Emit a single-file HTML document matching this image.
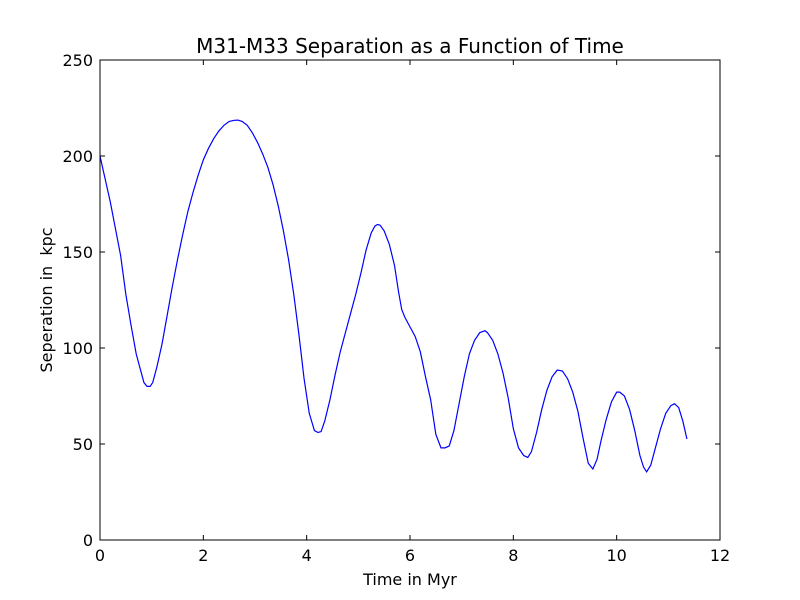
<!DOCTYPE html>
<html><head><meta charset="utf-8"><style>
body{margin:0;background:#fff;}
svg{display:block;font-family:"DejaVu Sans","Liberation Sans",sans-serif;}
text{white-space:pre;}
</style></head><body>
<svg id="chart" width="800" height="600"></svg>
<script>
const times=[0,0.2,0.4,0.5,0.6,0.7,0.8,0.85,0.91,0.97,1.02,1.1,1.2,1.3,1.4,1.5,1.6,1.7,1.8,1.9,2.0,2.1,2.2,2.3,2.4,2.5,2.6,2.67,2.75,2.85,2.95,3.05,3.15,3.25,3.35,3.45,3.55,3.65,3.75,3.85,3.95,4.05,4.15,4.22,4.28,4.35,4.45,4.55,4.65,4.75,4.85,4.95,5.05,5.15,5.25,5.32,5.37,5.42,5.5,5.6,5.7,5.78,5.84,5.9,6.0,6.1,6.2,6.3,6.4,6.5,6.6,6.68,6.76,6.85,6.95,7.05,7.15,7.25,7.35,7.45,7.5,7.6,7.7,7.8,7.9,8.0,8.1,8.2,8.28,8.35,8.45,8.55,8.65,8.75,8.85,8.95,9.05,9.15,9.25,9.35,9.45,9.54,9.62,9.7,9.8,9.9,10.0,10.06,10.15,10.25,10.35,10.45,10.52,10.58,10.66,10.75,10.85,10.95,11.05,11.12,11.2,11.28,11.36];
const separation=[200,176,148,128,112,97,87,82,80,80,82,90,102,117,132,146,159,171,181,190,198,204,209,213,216,218,218.6,218.7,218,216,212,207,201,194,185,174,161,146,128,107,84,66,57,56,56.5,62,73,86,98,108,118,128,139,151,160,163.5,164.3,164,161,154,143,129,120,116,111,106,98,85,73,55,48,48,49,57,71,85,97,104,108,109,108,104,97,87,74,58,48,44,43,46,56,68,78,85,88.5,88,84,77,67,53,40,37,42,52,63,72,77,77,75,68,57,44,38,35.5,39,48,58,66,70,71,69,62,52.6];
const xTicks=[0,2,4,6,8,10,12];
const yTicks=[0,50,100,150,200,250];
const NS='http://www.w3.org/2000/svg';
const svg=document.getElementById('chart');
const L=100,R=720,T=60,B=540;
const xs=v=>L+(v-0)/12*(R-L);
const ys=v=>B-(v-0)/250*(B-T);
function mk(tag,attrs,parent){const e=document.createElementNS(NS,tag);for(const k in attrs)e.setAttribute(k,attrs[k]);(parent||svg).appendChild(e);return e;}
const t=mk('text',{x:410,y:53,'text-anchor':'middle','font-size':'20'});


t.textContent='M31-M33 Separation as a Function of Time';
let d='';
times.forEach((tv,i)=>{d+=(i?'L':'M')+xs(tv).toFixed(2)+','+ys(separation[i]).toFixed(2);});
const line=mk('path',{d:d,fill:'none',stroke:'#0000ff','stroke-width':'1.2'});


const frame=mk('rect',{x:L,y:T,width:R-L,height:B-T,fill:'none',stroke:'#000','stroke-width':'1'});


xTicks.forEach(v=>{
  const x=xs(v);
  mk('line',{x1:x,x2:x,y1:B,y2:B-5,stroke:'#000'});
  mk('line',{x1:x,x2:x,y1:T,y2:T+5,stroke:'#000'});
  const lb=mk('text',{x:x,y:B+21,'text-anchor':'middle','font-size':'16'});
  
  
  lb.textContent=v;
});
yTicks.forEach(v=>{
  const y=ys(v);
  mk('line',{x1:L,x2:L+5,y1:y,y2:y,stroke:'#000'});
  mk('line',{x1:R,x2:R-5,y1:y,y2:y,stroke:'#000'});
  const lb=mk('text',{x:L-7,y:y+6,'text-anchor':'end','font-size':'16'});
  
  
  lb.textContent=v;
});
const xl=mk('text',{x:410,y:585,'text-anchor':'middle','font-size':'16'});


xl.textContent='Time in Myr';
const yl=mk('text',{x:0,y:0,'text-anchor':'middle','font-size':'16',transform:'translate(52,300) rotate(-90)'});


yl.textContent='Seperation in  kpc';
</script>
</body></html>
